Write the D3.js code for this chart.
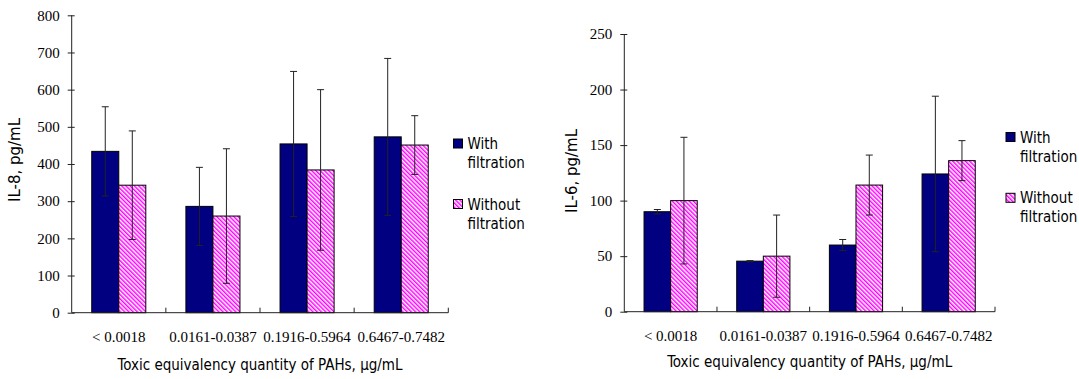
<!DOCTYPE html>
<html>
<head>
<meta charset="utf-8">
<script src="https://cdn.jsdelivr.net/npm/d3@7"></script>
<style>
  html, body { margin: 0; padding: 0; background: #fff; }
  svg { display: block; }
  .sans { font-family: "DejaVu Sans Condensed", "DejaVu Sans", sans-serif; font-stretch: condensed; font-size: 15px; fill: #000; }
  .ytitle { font-family: "DejaVu Sans", sans-serif; font-size: 15px; fill: #000; }
  .serif { font-family: "Liberation Serif", "Times New Roman", serif; font-size: 15px; fill: #000; }
</style>
</head>
<body>
<svg id="fig" width="1079" height="379"></svg>
<script>
// Shared categories (toxic equivalency quantity of PAHs, µg/mL)
const categories = ["< 0.0018", "0.0161-0.0387", "0.1916-0.5964", "0.6467-0.7482"];
const seriesKeys = ["with", "without"];
const legendLines = [["With", "filtration"], ["Without", "filtration"]];

// IL-8 (pg/mL)
const il8With = [434, 286, 454, 473];
const il8WithErr = [120, 105, 195, 211];
const il8Without = [343, 260, 384, 451];
const il8WithoutErr = [146, 181, 216, 79];
const il8Ticks = [0, 100, 200, 300, 400, 500, 600, 700, 800];

// IL-6 (pg/mL)
const il6With = [90, 45.5, 60, 124];
const il6WithErr = [2, 0.5, 5, 70];
const il6Without = [100, 50, 114, 136];
const il6WithoutErr = [57, 37, 27, 18];
const il6Ticks = [0, 50, 100, 150, 200, 250];

const xTitle = "Toxic equivalency quantity of PAHs, \u00b5g/mL";

const svg = d3.select("#fig");
const NAVY = "#000080";
const PINK = "#ff00ff";
const AXIS = "#222";

// Diagonal magenta hatch for the "without filtration" bars
const defs = svg.append("defs");
const pat = defs.append("pattern")
  .attr("id", "hatch")
  .attr("patternUnits", "userSpaceOnUse")
  .attr("width", 3).attr("height", 3)
  .attr("patternTransform", "rotate(-45)");
pat.append("rect").attr("width", 3).attr("height", 3).attr("fill", "#fff");
pat.append("rect").attr("width", 1.5).attr("height", 3).attr("fill", PINK);

const fills = { with: NAVY, without: "url(#hatch)" };

function drawChart(cfg) {
  const g = svg.append("g");
  const x0 = d3.scaleBand().domain(categories)
    .range([cfg.left, cfg.right])
    .paddingInner(0.426).paddingOuter(0.213);
  const x1 = d3.scaleBand().domain(seriesKeys).range([0, x0.bandwidth()]);
  const y = d3.scaleLinear().domain([0, cfg.max]).range([cfg.bottom, cfg.top]);

  const rows = categories.map((c, i) => ({
    cat: c,
    with: cfg.withVals[i], withErr: cfg.withErr[i],
    without: cfg.withoutVals[i], withoutErr: cfg.withoutErr[i]
  }));

  // bars
  const grp = g.selectAll("g.cat").data(rows).join("g")
    .attr("transform", d => `translate(${x0(d.cat)},0)`);
  grp.selectAll("rect").data(d => seriesKeys.map(k => ({ k, v: d[k], e: d[k + "Err"] })))
    .join("rect")
    .attr("x", d => x1(d.k))
    .attr("y", d => y(d.v))
    .attr("width", x1.bandwidth())
    .attr("height", d => y(0) - y(d.v))
    .attr("fill", d => fills[d.k])
    .attr("stroke", "#000").attr("stroke-width", 1);

  // error bars (mean ± error) with short caps
  const cap = 3.5;
  const eb = grp.selectAll("g.err").data(d => seriesKeys.map(k => ({ k, v: d[k], e: d[k + "Err"] })))
    .join("g").attr("class", "err")
    .attr("stroke", AXIS).attr("stroke-width", 1);
  const cx = d => x1(d.k) + x1.bandwidth() / 2;
  eb.append("line")
    .attr("x1", cx).attr("x2", cx)
    .attr("y1", d => y(d.v - d.e)).attr("y2", d => y(d.v + d.e));
  eb.append("line")
    .attr("x1", d => cx(d) - cap).attr("x2", d => cx(d) + cap)
    .attr("y1", d => y(d.v + d.e)).attr("y2", d => y(d.v + d.e));
  eb.append("line")
    .attr("x1", d => cx(d) - cap).attr("x2", d => cx(d) + cap)
    .attr("y1", d => y(d.v - d.e)).attr("y2", d => y(d.v - d.e));

  // y axis
  const yAxis = d3.axisLeft(y).tickValues(cfg.ticks).tickSize(0).tickPadding(12);
  const ya = g.append("g").attr("transform", `translate(${cfg.left},0)`).call(yAxis);
  ya.select(".domain").attr("stroke", AXIS).attr("d", `M0,${cfg.bottom}V${cfg.top}`);
  ya.selectAll(".tick text").attr("class", "serif");
  ya.selectAll(".tick").append("line").attr("x1", -4).attr("x2", 3).attr("stroke", AXIS);
  ya.attr("font-family", null).attr("font-size", null);

  // x axis: baseline with category dividers
  g.append("line").attr("x1", cfg.left).attr("x2", cfg.right)
    .attr("y1", y(0)).attr("y2", y(0)).attr("stroke", AXIS);
  const bounds = categories.map(c => x0(c) - x0.step() * x0.paddingOuter()).slice(1).concat([cfg.right]);
  g.selectAll("line.div").data(bounds).join("line").attr("class", "div")
    .attr("x1", d => d).attr("x2", d => d)
    .attr("y1", y(0)).attr("y2", y(0) - 5).attr("stroke", AXIS);
  g.selectAll("text.cat").data(categories).join("text").attr("class", "serif")
    .attr("x", d => x0(d) + x0.bandwidth() / 2).attr("y", y(0) + 29)
    .attr("text-anchor", "middle").text(d => d);

  // axis titles
  g.append("text").attr("class", "sans")
    .attr("x", (cfg.left + cfg.right) / 2).attr("y", cfg.xTitleY)
    .attr("text-anchor", "middle").text(xTitle);
  g.append("text").attr("class", "ytitle")
    .attr("transform", `translate(${cfg.yTitleX},${cfg.yTitleY}) rotate(-90)`)
    .attr("text-anchor", "middle").attr("dy", "0.35em").text(cfg.yTitle);

  // legend
  seriesKeys.forEach((k, i) => {
    const ly = cfg.legendY + i * cfg.legendGap;
    g.append("rect").attr("x", cfg.legendX).attr("y", ly)
      .attr("width", 9).attr("height", 9)
      .attr("fill", fills[k]).attr("stroke", "#000").attr("stroke-width", 1);
    legendLines[i].forEach((t, j) => {
      g.append("text").attr("class", "sans")
        .attr("x", cfg.legendX + 14).attr("y", ly + 10 + j * 19)
        .text(t);
    });
  });
}

drawChart({
  left: 71.7, right: 448.3, top: 15.3, bottom: 312.7, max: 800,
  ticks: il8Ticks, withVals: il8With, withErr: il8WithErr,
  withoutVals: il8Without, withoutErr: il8WithoutErr,
  yTitle: "IL-8, pg/mL", yTitleX: 15, yTitleY: 160, xTitleY: 370,
  legendX: 453.5, legendY: 139, legendGap: 60.5
});

drawChart({
  left: 624.3, right: 995, top: 34, bottom: 311.7, max: 250,
  ticks: il6Ticks, withVals: il6With, withErr: il6WithErr,
  withoutVals: il6Without, withoutErr: il6WithoutErr,
  yTitle: "IL-6, pg/mL", yTitleX: 571.6, yTitleY: 171, xTitleY: 367,
  legendX: 1006, legendY: 132.5, legendGap: 60.8
});
</script>
</body>
</html>
